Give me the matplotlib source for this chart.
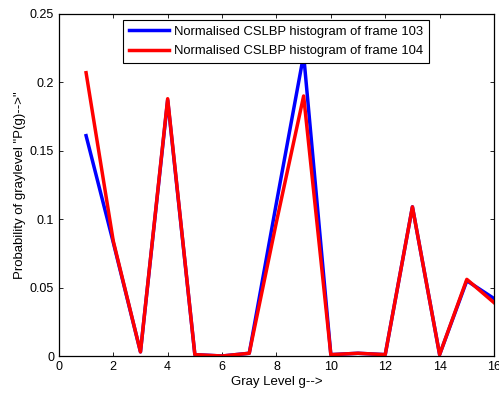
import matplotlib.pyplot as plt

# gray levels and normalised CSLBP histograms
gray_levels = [1, 2, 3, 4, 5, 6, 7, 8, 9, 10, 11, 12, 13, 14, 15, 16]
hist_103 = [0.161, 0.083, 0.003, 0.187, 0.001, 0.000, 0.002, 0.112, 0.220,
            0.001, 0.002, 0.001, 0.109, 0.001, 0.055, 0.042]
hist_104 = [0.207, 0.084, 0.003, 0.188, 0.001, 0.000, 0.002, 0.098, 0.190,
            0.001, 0.002, 0.001, 0.109, 0.001, 0.056, 0.039]
x_ticks = [0, 2, 4, 6, 8, 10, 12, 14, 16]
y_ticks = [0, 0.05, 0.1, 0.15, 0.2, 0.25]

plt.rcParams["font.family"] = ["Liberation Sans", "DejaVu Sans"]
plt.rcParams["font.size"] = 9

fig = plt.figure(figsize=(4.99, 3.96), dpi=100)
ax = fig.add_axes([0.118, 0.101, 0.872, 0.864])

ax.plot(gray_levels, hist_103, color="#0000ff", linewidth=2.5,
        label="Normalised CSLBP histogram of frame 103")
ax.plot(gray_levels, hist_104, color="#ff0000", linewidth=2.5,
        label="Normalised CSLBP histogram of frame 104")

ax.set_xlim(0, 16)
ax.set_ylim(0, 0.25)
ax.set_xticks(x_ticks)
ax.set_yticks(y_ticks)
ax.set_yticklabels(["0", "0.05", "0.1", "0.15", "0.2", "0.25"])
ax.tick_params(direction="in", top=True, right=True, length=3, width=0.6,
               labelsize=9)
for s in ax.spines.values():
    s.set_linewidth(0.9)

ax.set_xlabel("Gray Level g-->", fontsize=9.5, labelpad=2)
ax.set_ylabel('Probability of graylevel "P(g)-->"', fontsize=9.5, labelpad=3)

leg = ax.legend(loc="upper center", bbox_to_anchor=(0.5, 0.982),
                borderaxespad=0, fancybox=False, edgecolor="black",
                framealpha=1, fontsize=9.4, handlelength=3.0,
                borderpad=0.45, labelspacing=0.55, handletextpad=0.45)
leg.get_frame().set_linewidth(0.8)

fig.savefig("out.png", dpi=100)
